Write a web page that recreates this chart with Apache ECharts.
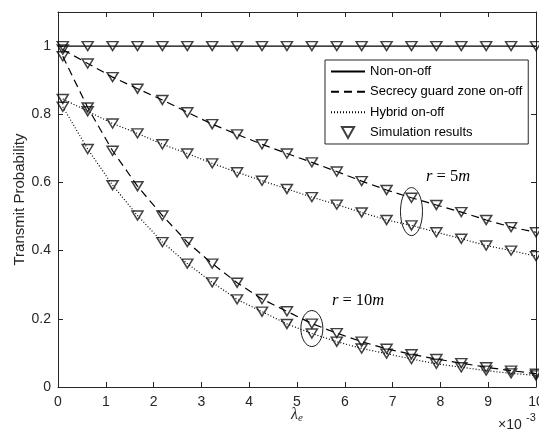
<!DOCTYPE html>
<html><head><meta charset="utf-8">
<script src="https://cdn.jsdelivr.net/npm/echarts@6/dist/echarts.min.js"></script>
<style>html,body{margin:0;padding:0;background:#fff}#c{width:539px;height:434px}</style>
</head><body><div id="c"></div>
<script>
// lambda_e values (x 1e-3)
const lambdaE = [0.1, 0.621, 1.142, 1.663, 2.184, 2.705, 3.226, 3.747, 4.268, 4.789,
                 5.311, 5.832, 6.353, 6.874, 7.395, 7.916, 8.437, 8.958, 9.479, 10.0];
// Non-on-off analytic line
const nonOnOffX = [0, 10];
const nonOnOff = [1, 1];
// Non-on-off simulation
const nonOnOffSim = [1,1,1,1,1,1,1,1,1,1,1,1,1,1,1,1,1,1,1,1];
// r = 5m
const sgzR5 = [0.99, 0.949, 0.909, 0.875, 0.842, 0.806, 0.771, 0.741, 0.712, 0.685,
               0.659, 0.632, 0.604, 0.578, 0.555, 0.534, 0.513, 0.490, 0.469, 0.454];
const hybridR5 = [0.845, 0.809, 0.773, 0.744, 0.712, 0.685, 0.656, 0.630, 0.605, 0.581,
                  0.557, 0.535, 0.512, 0.490, 0.474, 0.454, 0.435, 0.415, 0.400, 0.384];
// r = 10m
const sgzR10 = [0.97, 0.82, 0.693, 0.589, 0.503, 0.425, 0.362, 0.306, 0.258, 0.222,
                0.186, 0.158, 0.133, 0.112, 0.096, 0.082, 0.070, 0.058, 0.048, 0.039];
const hybridR10 = [0.822, 0.698, 0.592, 0.503, 0.425, 0.362, 0.307, 0.257, 0.221, 0.185,
                   0.157, 0.133, 0.113, 0.098, 0.082, 0.068, 0.058, 0.048, 0.040, 0.034];
const legendNames = ['Non-on-off', 'Secrecy guard zone on-off', 'Hybrid on-off', 'Simulation results'];
const yTickLabels = ['0', '0.2', '0.4', '0.6', '0.8', '1'];
// annotation texts and anchors (data space)
const annotTexts = [{ t: '{i|r} = 5{i|m}', x: 7.70, y: 0.617 }, { t: '{i|r} = 10{i|m}', x: 5.73, y: 0.254 }];
// ellipses mark index of circled simulation pair
const ellipseIdx = [{ i: 14, a: sgzR5, b: hybridR5, rx: 11, ry: 24 }, { i: 10, a: sgzR10, b: hybridR10, rx: 11, ry: 18 }];

const zip = (xs, ys) => xs.map((x, k) => [x, ys[k]]);
const AX = '#262626';
const FONT = 'Liberation Sans';
const SERIF = 'Liberation Serif';
const TRI = 'path://M0,0L10,0L5,9Z';

const simData = [].concat(zip(lambdaE, nonOnOffSim), zip(lambdaE, sgzR5), zip(lambdaE, hybridR5),
  zip(lambdaE, sgzR10), zip(lambdaE, hybridR10));

const chart = echarts.init(document.getElementById('c'), null, { renderer: 'canvas' });
const dashed = { color: '#000', width: 1.2, type: [8, 5] };
const dotted = { color: '#000', width: 1.2, type: [1, 2] };
const noSym = { opacity: 0 };

chart.setOption({
  animation: false,
  backgroundColor: '#fff',
  grid: { left: 58, right: 3, top: 12, bottom: 47, containLabel: false, outerBoundsMode: 'none' },
  legend: {
    orient: 'vertical', left: 325, top: 60,
    itemWidth: 34, itemHeight: 11, itemGap: 7.33,
    padding: [5, 6, 5, 5],
    backgroundColor: '#fff', borderColor: AX, borderWidth: 1,
    textStyle: { fontFamily: FONT, fontSize: 13, color: '#000' },
    data: [
      { name: legendNames[0], itemStyle: noSym },
      { name: legendNames[1], itemStyle: noSym },
      { name: legendNames[2], itemStyle: noSym },
      { name: legendNames[3] }
    ],
    selectedMode: false
  },
  xAxis: [{
    type: 'value', min: 0, max: 10, interval: 1, position: 'bottom',
    axisLine: { onZero: false, lineStyle: { color: AX, width: 1 } },
    axisTick: { inside: true, length: 5, lineStyle: { color: AX } },
    axisLabel: { fontFamily: FONT, fontSize: 14, color: AX, margin: 8 },
    splitLine: { show: false },
    name: '{l|λ}{s|e}', nameLocation: 'middle', nameGap: 18, nameMoveOverlap: false,
    nameTextStyle: {
      rich: {
        l: { fontFamily: SERIF, fontSize: 16, fontStyle: 'italic', color: AX },
        s: { fontFamily: SERIF, fontSize: 11, fontStyle: 'italic', color: AX, padding: [8, 0, 0, 0] }
      }
    }
  }, {
    type: 'value', min: 0, max: 10, interval: 1, position: 'top',
    axisLine: { onZero: false, lineStyle: { color: AX, width: 1 } },
    axisTick: { inside: true, length: 5, lineStyle: { color: AX } },
    axisLabel: { show: false }, splitLine: { show: false }
  }],
  yAxis: [{
    type: 'value', min: 0, max: 1.1, interval: 0.2, position: 'left',
    axisLine: { show: true, onZero: false, lineStyle: { color: AX, width: 1 } },
    axisTick: { show: true, inside: true, length: 5, lineStyle: { color: AX } },
    axisLabel: {
      fontFamily: FONT, fontSize: 14, color: AX, margin: 7,
      formatter: v => { const k = Math.round(v / 0.2); return (Math.abs(v - k * 0.2) < 1e-6 && k < yTickLabels.length) ? yTickLabels[k] : ''; }
    },
    splitLine: { show: false },
    name: 'Transmit Probability', nameLocation: 'middle', nameGap: 31, nameMoveOverlap: false,
    nameTextStyle: { fontFamily: FONT, fontSize: 15, color: AX }
  }, {
    type: 'value', min: 0, max: 1.1, interval: 0.2, position: 'right',
    axisLine: { show: true, onZero: false, lineStyle: { color: AX, width: 1 } },
    axisTick: { show: true, inside: true, length: 5, lineStyle: { color: AX } },
    axisLabel: { show: false }, splitLine: { show: false }
  }],
  series: [
    { name: legendNames[0], type: 'line', data: zip(nonOnOffX, nonOnOff), symbol: 'none', lineStyle: { color: '#000', width: 1.2 }, itemStyle: { color: '#000' }, z: 2 },
    { name: legendNames[1], type: 'line', data: zip(lambdaE, sgzR5), symbol: 'none', lineStyle: dashed, itemStyle: { color: '#000' }, z: 2 },
    { name: legendNames[1], type: 'line', data: zip(lambdaE, sgzR10), symbol: 'none', lineStyle: dashed, itemStyle: { color: '#000' }, z: 2 },
    { name: legendNames[2], type: 'line', data: zip(lambdaE, hybridR5), symbol: 'none', lineStyle: dotted, itemStyle: { color: '#000' }, z: 2 },
    { name: legendNames[2], type: 'line', data: zip(lambdaE, hybridR10), symbol: 'none', lineStyle: dotted, itemStyle: { color: '#000' }, z: 2 },
    {
      name: legendNames[3], type: 'scatter', data: simData, symbol: TRI, symbolSize: [11, 10], symbolKeepAspect: true,
      itemStyle: { color: 'rgba(255,255,255,0)', borderColor: '#111', borderWidth: 1.5 }, z: 3
    },
    {
      type: 'custom', silent: true, z: 4,
      data: ellipseIdx.map(e => [lambdaE[e.i], (e.a[e.i] + e.b[e.i]) / 2]),
      renderItem: (params, api) => {
        const p = api.coord([api.value(0), api.value(1)]);
        const e = ellipseIdx[params.dataIndex];
        return { type: 'ellipse', shape: { cx: p[0], cy: p[1], rx: e.rx, ry: e.ry }, style: { fill: null, stroke: '#000', lineWidth: 0.9 } };
      }
    },
    {
      type: 'custom', silent: true, z: 4,
      data: annotTexts.map(a => [a.x, a.y]),
      renderItem: (params, api) => {
        const p = api.coord([api.value(0), api.value(1)]);
        return {
          type: 'text', x: p[0], y: p[1],
          style: {
            text: annotTexts[params.dataIndex].t, fontFamily: SERIF, fontSize: 16.5, fill: '#000',
            align: 'left', verticalAlign: 'middle',
            rich: { i: { fontFamily: SERIF, fontSize: 16.5, fontStyle: 'italic', fill: '#000' } }
          }
        };
      }
    }
  ],
  graphic: [
    { type: 'text', left: 498, top: 418, style: { text: '×10', fontFamily: FONT, fontSize: 14, fill: AX } },
    { type: 'text', left: 526, top: 412, style: { text: '-3', fontFamily: FONT, fontSize: 11, fill: AX } }
  ]
});
</script></body></html>
